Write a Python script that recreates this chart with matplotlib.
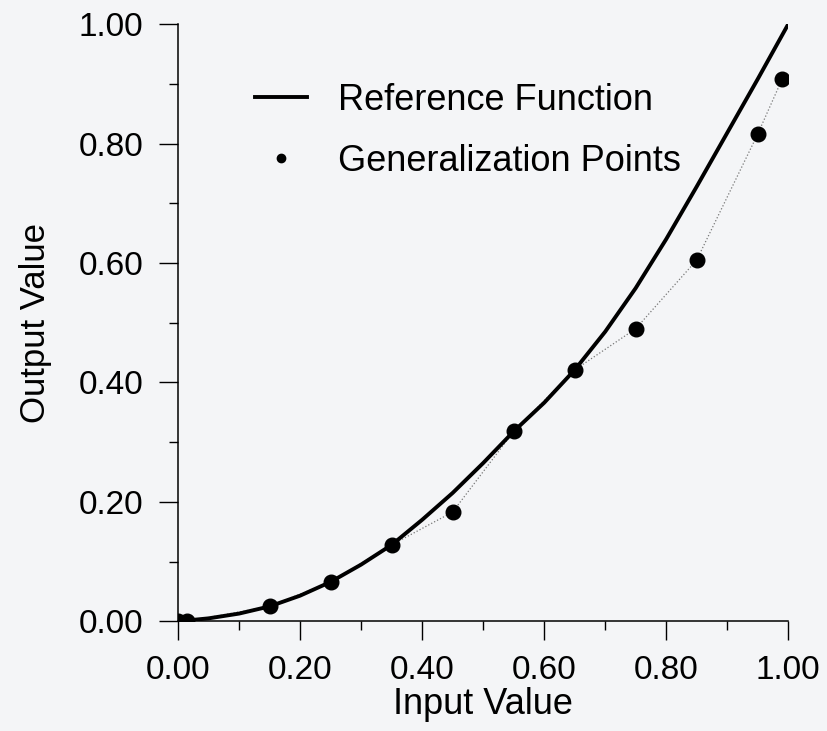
import matplotlib
matplotlib.use("Agg")
import matplotlib.pyplot as plt
from matplotlib.ticker import MultipleLocator, FormatStrFormatter

plt.rcParams['font.family'] = ['Liberation Sans', 'DejaVu Sans']

# Reference function, every 0.05
ref_x = [0.00, 0.05, 0.10, 0.15, 0.20, 0.25, 0.30, 0.35, 0.40, 0.45, 0.50,
         0.55, 0.60, 0.65, 0.70, 0.75, 0.80, 0.85, 0.90, 0.95, 1.00]
ref_y = [0.000, 0.005, 0.013, 0.025, 0.043, 0.066, 0.095, 0.128, 0.170, 0.215, 0.265,
         0.318, 0.366, 0.421, 0.485, 0.558, 0.640, 0.728, 0.818, 0.908, 1.000]

# Generalization points
gen_x = [0.00, 0.015, 0.15, 0.25, 0.35, 0.45, 0.55, 0.65, 0.75, 0.85, 0.95, 0.99]
gen_y = [0.000, 0.000, 0.025, 0.066, 0.128, 0.183, 0.318, 0.421, 0.490, 0.605, 0.816, 0.908]

bg = '#f4f5f7'
fig = plt.figure(figsize=(8.28, 7.31), dpi=100, facecolor=bg)
ax = fig.add_axes([0.215, 0.150, 0.737, 0.817])
ax.set_facecolor(bg)

ax.plot(ref_x, ref_y, color='black', lw=2.8, label='Reference Function', zorder=3)
ax.plot(gen_x, gen_y, color='#777777', lw=0.9, ls=':', zorder=2)
ax.plot(gen_x, gen_y, 'o', color='black', ms=10.5, ls='none', zorder=4)
# legend marker is smaller than the plotted dots
ax.plot([], [], 'o', color='black', ms=6, ls='none', label='Generalization Points')

ax.set_xlim(0, 1.0)
ax.set_ylim(0, 1.0)
ax.xaxis.set_major_locator(MultipleLocator(0.2))
ax.xaxis.set_minor_locator(MultipleLocator(0.1))
ax.yaxis.set_major_locator(MultipleLocator(0.2))
ax.yaxis.set_minor_locator(MultipleLocator(0.1))
ax.xaxis.set_major_formatter(FormatStrFormatter('%.2f'))
ax.yaxis.set_major_formatter(FormatStrFormatter('%.2f'))

for s in ['top', 'right']:
    ax.spines[s].set_visible(False)
for s in ['left', 'bottom']:
    ax.spines[s].set_linewidth(1.1)

ax.tick_params(which='major', direction='out', length=13.5, width=1.0,
               labelsize=24)
ax.tick_params(axis='y', which='major', pad=11.5)
ax.tick_params(axis='x', which='major', pad=10.5)
ax.tick_params(which='minor', direction='out', length=6.5, width=1.0)

ax.set_xlabel('Input Value', fontsize=26, labelpad=1)
ax.set_ylabel('Output Value', fontsize=25, labelpad=19)

ax.legend(loc='upper left', bbox_to_anchor=(255 / 828, 1 - 83 / 731),
          bbox_transform=fig.transFigure, frameon=False, fontsize=26,
          handlelength=1.45, handletextpad=0.85, labelspacing=0.72,
          borderpad=0, borderaxespad=0, markerscale=1.0)

fig.savefig('out.png', dpi=100, facecolor=bg)
